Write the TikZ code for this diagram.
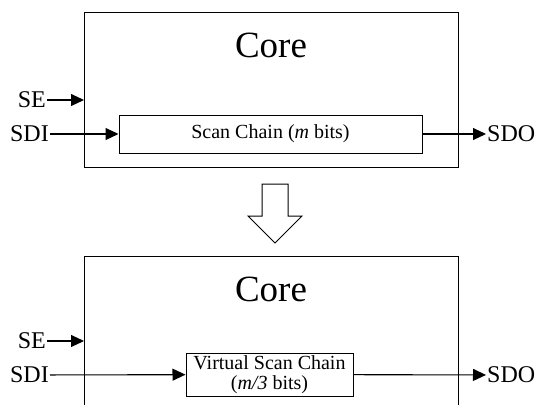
\documentclass[tikz,border=0pt]{standalone}
\usepackage{fontspec}
\setmainfont{Liberation Serif}
\usetikzlibrary{arrows.meta, positioning, calc}

\tikzset{
	core/.style  = {draw, line width = 1.4pt, minimum width = 374pt, minimum height = 155pt,
	                anchor = north west, inner sep = 0pt},
	title/.style = {font = \fontsize{37}{37}\selectfont, anchor = base, inner sep = 0pt},
	chain/.style = {draw, line width = 1pt, inner sep = 2pt, align = center,
	                font = \fontsize{20}{20}\selectfont},
	pin/.style   = {font = \fontsize{24}{24}\selectfont, inner sep = 1pt},
	sig/.style   = {-{Triangle[length = 13pt, width = 12pt]}, line width = 1.1pt},
}

\begin{document}
\begin{tikzpicture}[x = 1pt, y = -1pt]
					\useasboundingbox (0,0) rectangle (542,405);

					% original core with the full scan chain
					\begin{scope}
						\node [core] (core1) at (84,12) {};
						\node [title] (title1) at (271,57) {Core};
						\node [chain, minimum width = 303pt, minimum height = 38pt] (chain1) at (270.5,134)
							{Scan Chain (\textit{m} bits)};

						\node [pin, anchor = east] (se1)  at (47,100)  {SE};
						\node [pin, anchor = east] (sdi1) at (50,134)  {SDI};
						\node [pin, anchor = west] (sdo1) at (486,134) {SDO};
					\end{scope}

					\begin{scope}[sig]
						\draw (se1) -- (se1 -| core1.west);
						\draw (sdi1) -- (chain1);
						\draw (chain1) -- (sdo1);
					\end{scope}

					% hollow arrow between both cores
					\def\w{13};
					\def\h{27};
					\coordinate (tip) at (275,243);
					\draw [line width = 1pt]
						($(tip) + (-\w,-\h)$) -- ++(0,-32) -- ++(2*\w,0) -- ++(0,32) -- ++(\h-\w,0)
						-- (tip) -- ($(tip) + (-\h,-\h)$) -- cycle;

					% core with the virtual scan chain
					\begin{scope}
						\clip (0,0) rectangle (542,405);
						\node [core, minimum height = 180pt] (core2) at (84,256) {};
					\end{scope}

					\begin{scope}
						\node [title] (title2) at (271,301) {Core};
						\node [chain, minimum width = 167pt, minimum height = 43pt] (chain2) at (269.5,374.5)
							{Virtual Scan Chain\\(\textit{m/3} bits)};

						\node [pin, anchor = east] (se2)  at (47,341)  {SE};
						\node [pin, anchor = east] (sdi2) at (50,375)  {SDI};
						\node [pin, anchor = west] (sdo2) at (486,375) {SDO};
					\end{scope}

					\begin{scope}[sig]
						\draw (se2) -- (se2 -| core2.west);
						\draw (sdi2) -- (chain2);
						\draw (chain2) -- (sdo2);
					\end{scope}
				\end{tikzpicture}
\end{document}
